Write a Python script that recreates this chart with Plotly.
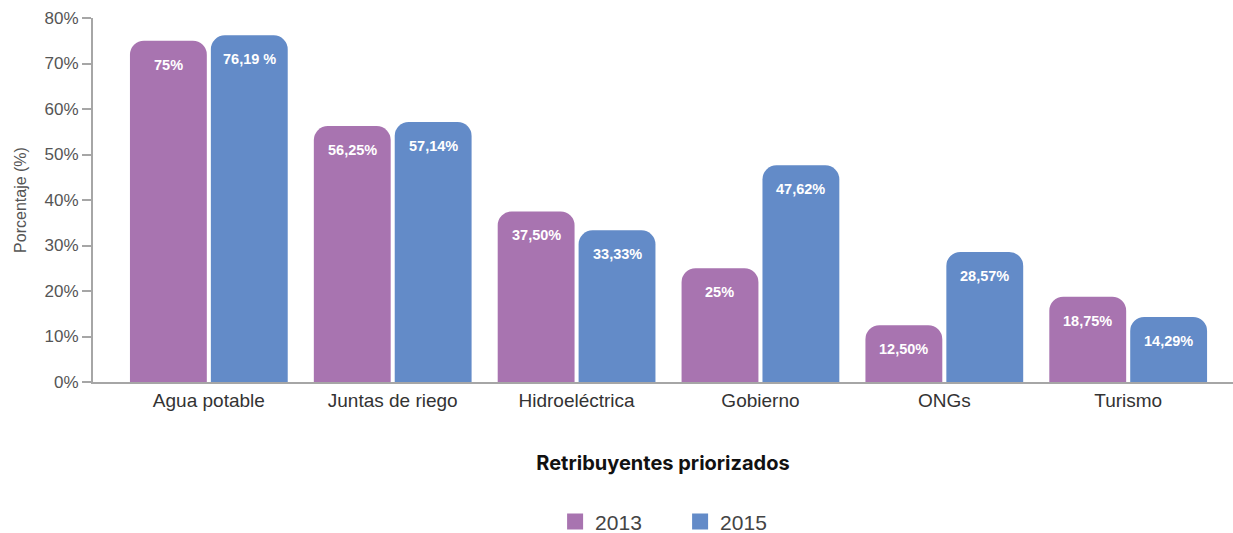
import plotly.graph_objects as go

categorias = ['Agua potable', 'Juntas de riego', 'Hidroeléctrica', 'Gobierno', 'ONGs', 'Turismo']
valores_2013 = [75, 56.25, 37.5, 25, 12.5, 18.75]
valores_2015 = [76.19, 57.14, 33.33, 47.62, 28.57, 14.29]
etiquetas_2013 = ['75%', '56,25%', '37,50%', '25%', '12,50%', '18,75%']
etiquetas_2015 = ['76,19 %', '57,14%', '33,33%', '47,62%', '28,57%', '14,29%']
y_ticks = [0, 10, 20, 30, 40, 50, 60, 70, 80]

purple = '#A874B0'
blue = '#638BC8'
axis_grey = '#A6A6A6'

series = [('2013', valores_2013, etiquetas_2013, purple, -40.5),
          ('2015', valores_2015, etiquetas_2015, blue, 40.5)]

fig = go.Figure()
for name, vals, labels, color, shift in series:
    fig.add_trace(go.Bar(
        x=categorias, y=vals, name=name, showlegend=False,
        marker=dict(color=color, cornerradius=14, line=dict(width=0)),
    ))
    # legend entry with a bigger square swatch
    fig.add_trace(go.Scatter(
        x=[None], y=[None], mode='markers', name=name,
        marker=dict(symbol='square', size=16, color=color, line=dict(width=0)),
    ))
    # value labels just below the top of each bar
    for cat, v, lab in zip(categorias, vals, labels):
        fig.add_annotation(
            x=cat, y=v, text=f'<b>{lab}</b>', showarrow=False,
            xshift=shift, yshift=-24, yanchor='middle',
            font=dict(family='Liberation Sans', size=14.5, color='white'),
        )

fig.update_layout(
    width=1233, height=533,
    margin=dict(l=93, r=0, t=18, b=151, autoexpand=False),
    plot_bgcolor='white', paper_bgcolor='white',
    barmode='group', bargap=0.12, bargroupgap=0.05,
    font=dict(family='Liberation Sans', color='#444444'),
    legend=dict(orientation='h', x=0.515, xanchor='center', y=-0.384, yanchor='middle',
                font=dict(size=21, color='#444444'), itemwidth=30,
                entrywidth=80, itemsizing='trace'),
    xaxis=dict(
        range=[-0.63, 5.57], automargin=False,
        showline=True, linecolor=axis_grey, linewidth=2,
        ticks='', tickfont=dict(size=19, color='#333333'),
        title=dict(text='<b>Retribuyentes priorizados</b>', standoff=46,
                   font=dict(family='Inter', size=20, color='#111111')),
        showgrid=False, zeroline=False,
    ),
    yaxis=dict(
        range=[0, 80], tickvals=y_ticks, ticktext=[f'{v}%' for v in y_ticks],
        automargin=False,
        showline=True, linecolor=axis_grey, linewidth=2,
        ticks='outside', ticklen=9, tickcolor=axis_grey, tickwidth=2,
        tickfont=dict(size=17, color='#555555'),
        title=dict(text='Porcentaje (%)', standoff=14,
                   font=dict(size=16, color='#555555')),
        showgrid=False, zeroline=False,
    ),
)

fig.write_html('out.html', config={'displayModeBar': False},
               post_script="document.body.style.margin='0';")
